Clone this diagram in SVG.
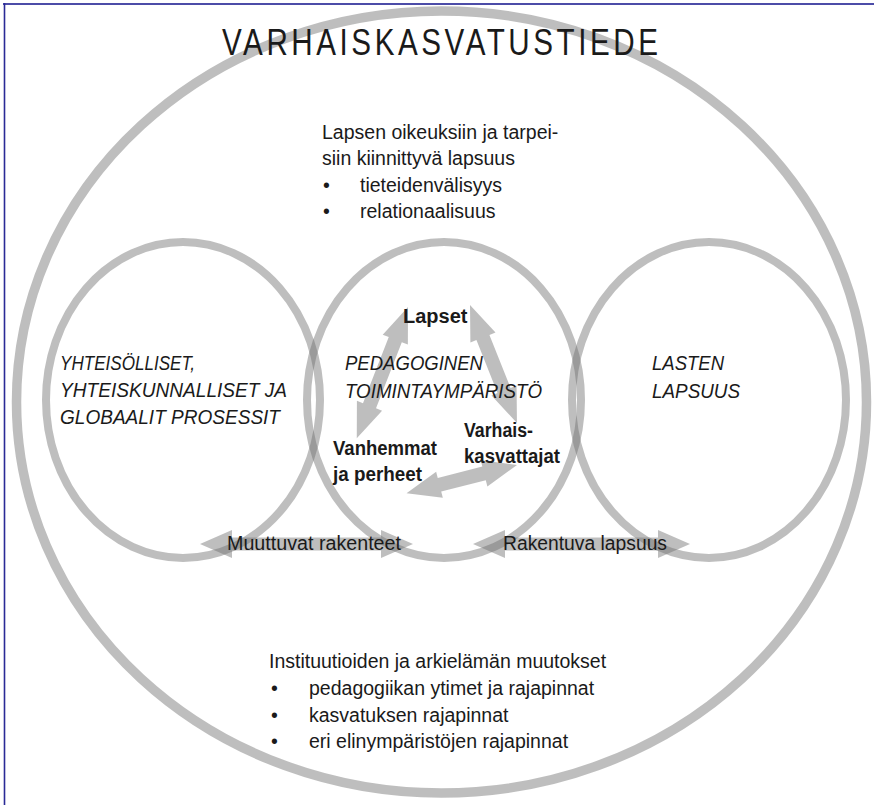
<svg xmlns="http://www.w3.org/2000/svg" width="874" height="805" viewBox="0 0 874 805">
<style>
.ring{fill:none;stroke:#6e6e6e;stroke-opacity:0.45;stroke-width:8}
.outer{fill:none;stroke:#6e6e6e;stroke-opacity:0.45;stroke-width:9.5}
.arr{fill:#6e6e6e;fill-opacity:0.45;stroke:none}
text{font-family:"Liberation Sans",Arial,Helvetica,sans-serif;fill:#1a1a1a}
.reg{font-size:19.5px}
.it{font-size:20px;font-style:italic}
.bd{font-size:20px;font-weight:bold}
.title{font-size:37px}
</style>
<rect x="0" y="0" width="874" height="805" fill="#ffffff"/>
<g id="frame">
<line x1="3" y1="4" x2="874" y2="4" stroke="#4c4ca8" stroke-width="2.2"/>
<line x1="4.5" y1="3" x2="4.5" y2="805" stroke="#2a2a96" stroke-width="1.6"/>
</g>
<g id="connectors">
<polygon class="arr" transform="translate(408,307) rotate(111.3)" points="0,0 35,-13.5 35,-7 106,-7 106,-13.5 141,0 106,13.5 106,7 35,7 35,13.5"/>
<polygon class="arr" transform="translate(470,305) rotate(68.3)" points="0,0 35,-13.5 35,-7 92,-7 92,-13.5 127,0 92,13.5 92,7 35,7 35,13.5"/>
<polygon class="arr" transform="translate(517,465) rotate(165.7)" points="0,0 34,-13.5 34,-7 80,-7 80,-13.5 114,0 80,13.5 80,7 34,7 34,13.5"/>
<polygon class="arr" points="200,544 232,530 232,537.5 381,537.5 381,530 413,544 381,558 381,550.5 232,550.5 232,558"/>
<polygon class="arr" points="473,544 505,530 505,537.5 658,537.5 658,530 690,544 658,558 658,550.5 505,550.5 505,558"/>
</g>
<g id="varhaiskasvatustiede">
<ellipse class="outer" cx="441.5" cy="402" rx="425" ry="391"/>
<text class="title" transform="translate(222,55) scale(0.8,1)" textLength="545" lengthAdjust="spacing">VARHAISKASVATUSTIEDE</text>
<text class="reg" x="322" y="139">Lapsen oikeuksiin ja tarpei-</text>
<text class="reg" x="322" y="165">siin kiinnittyvä lapsuus</text>
<text class="reg" x="323" y="192">•</text>
<text class="reg" x="360" y="192">tieteidenvälisyys</text>
<text class="reg" x="323" y="218">•</text>
<text class="reg" x="360" y="218">relationaalisuus</text>
<text class="reg" x="269" y="668">Instituutioiden ja arkielämän muutokset</text>
<text class="reg" x="271" y="695">•</text>
<text class="reg" x="309" y="695">pedagogiikan ytimet ja rajapinnat</text>
<text class="reg" x="271" y="722">•</text>
<text class="reg" x="309" y="722">kasvatuksen rajapinnat</text>
<text class="reg" x="271" y="748">•</text>
<text class="reg" x="309" y="748">eri elinympäristöjen rajapinnat</text>
</g>
<g id="yhteisolliset">
<ellipse class="ring" cx="183" cy="400" rx="137" ry="158"/>
<text class="it" x="60" y="370" textLength="135" lengthAdjust="spacingAndGlyphs">YHTEISÖLLISET,</text>
<text class="it" x="60" y="397" textLength="227" lengthAdjust="spacingAndGlyphs">YHTEISKUNNALLISET JA</text>
<text class="it" x="60" y="424" textLength="220" lengthAdjust="spacingAndGlyphs">GLOBAALIT PROSESSIT</text>
</g>
<g id="pedagoginen">
<ellipse class="ring" cx="444" cy="400" rx="137" ry="158"/>
<text class="it" x="345" y="370" textLength="138" lengthAdjust="spacingAndGlyphs">PEDAGOGINEN</text>
<text class="it" x="345" y="398" textLength="197" lengthAdjust="spacingAndGlyphs">TOIMINTAYMPÄRISTÖ</text>
</g>
<g id="lasten-lapsuus">
<ellipse class="ring" cx="709" cy="400" rx="137" ry="158"/>
<text class="it" x="652" y="370" textLength="72" lengthAdjust="spacingAndGlyphs">LASTEN</text>
<text class="it" x="652" y="398" textLength="88" lengthAdjust="spacingAndGlyphs">LAPSUUS</text>
</g>
<g id="lapset">
<text class="bd" x="403" y="323">Lapset</text>
</g>
<g id="vanhemmat">
<text class="bd" x="333" y="455" textLength="104" lengthAdjust="spacingAndGlyphs">Vanhemmat</text>
<text class="bd" x="333" y="481" textLength="89" lengthAdjust="spacingAndGlyphs">ja perheet</text>
</g>
<g id="varhaiskasvattajat">
<text class="bd" x="464" y="437" textLength="69" lengthAdjust="spacingAndGlyphs">Varhais-</text>
<text class="bd" x="464" y="463" textLength="96" lengthAdjust="spacingAndGlyphs">kasvattajat</text>
</g>
<g id="labels">
<text class="reg" x="227" y="550" textLength="174" lengthAdjust="spacingAndGlyphs">Muuttuvat rakenteet</text>
<text class="reg" x="503" y="550" textLength="164" lengthAdjust="spacingAndGlyphs">Rakentuva lapsuus</text>
</g>
</svg>
